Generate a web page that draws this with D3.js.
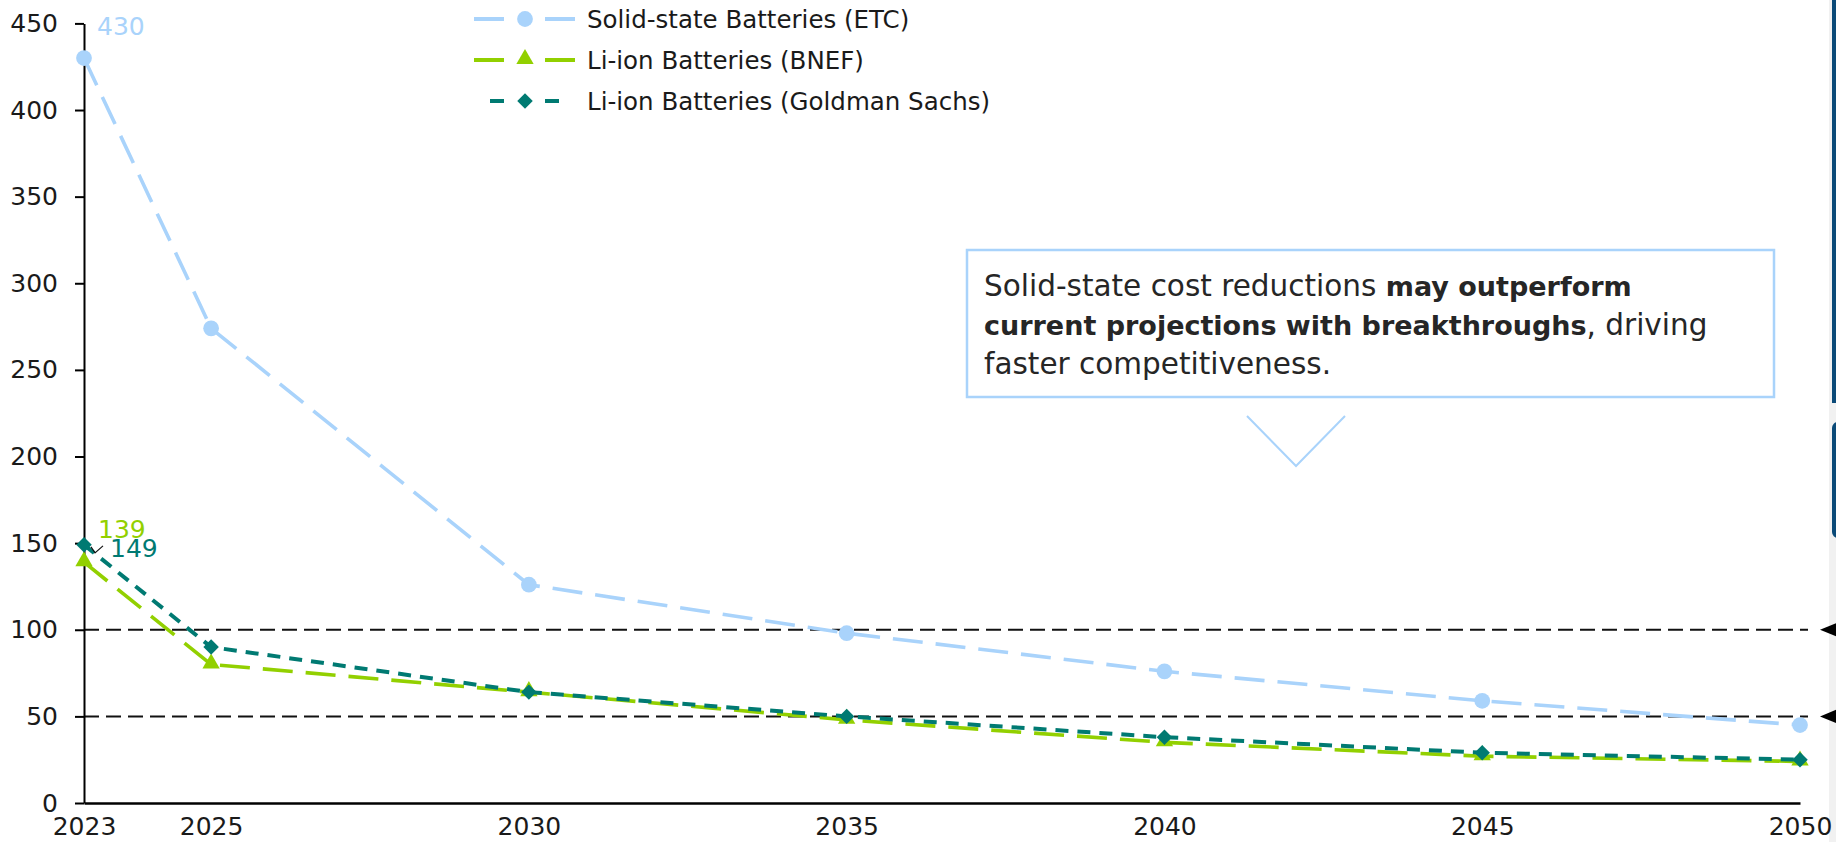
<!DOCTYPE html>
<html>
<head>
<meta charset="utf-8">
<script src="https://cdn.jsdelivr.net/npm/d3@7"></script>
<style>
  html, body { margin: 0; padding: 0; background: #ffffff; }
  svg { display: block; font-family: "DejaVu Sans", sans-serif; }
</style>
</head>
<body>
<svg id="chart" width="1836" height="842"></svg>
<script>
// ---- data ----
const years = [2023, 2025, 2030, 2035, 2040, 2045, 2050];
const solidState = [430, 274, 126, 98, 76, 59, 45];
const liIonBNEF = [139, 80, 64, 48, 35, 27, 24];
const liIonGS = [149, 90, 64, 50, 38, 29, 25];
const yTicks = [0, 50, 100, 150, 200, 250, 300, 350, 400, 450];
const refLines = [100, 50];
const seriesNames = ["Solid-state Batteries (ETC)", "Li-ion Batteries (BNEF)", "Li-ion Batteries (Goldman Sachs)"];

const colBlue = "#a9d3fb", colGreen = "#92d000", colTeal = "#007a72";

const svg = d3.select("#chart");
const x = d3.scaleLinear().domain([2023, 2050]).range([84, 1800]);
const y = d3.scaleLinear().domain([0, 450]).range([803, 23.4]);

// right edge decoration
svg.append("rect").attr("x", 1829).attr("y", 0).attr("width", 7).attr("height", 842).attr("fill", "#f1f1f1");
svg.append("rect").attr("x", 1832).attr("y", 0).attr("width", 6).attr("height", 403).attr("fill", "#0b4a78");
svg.append("rect").attr("x", 1832).attr("y", 422).attr("width", 12).attr("height", 116).attr("rx", 6).attr("fill", "#0b4a78");

// reference dashed lines
svg.selectAll("line.ref").data(refLines).enter().append("line")
  .attr("x1", x(2023)).attr("x2", x(2050) + 8)
  .attr("y1", d => y(d)).attr("y2", d => y(d))
  .attr("stroke", "#111").attr("stroke-width", 2).attr("stroke-dasharray", "15,7");
svg.selectAll("path.refarrow").data(refLines).enter().append("path")
  .attr("d", d => `M1820,${y(d)} L1842,${y(d) - 9} L1842,${y(d) + 9} Z`)
  .attr("fill", "#000");

// axes
const yAxis = d3.axisLeft(y).tickValues(yTicks).tickSize(9).tickSizeOuter(0).tickPadding(17);
const gy = svg.append("g").attr("transform", `translate(${x(2023)},0)`).call(yAxis);
gy.select(".domain").attr("stroke", "#000").attr("stroke-width", 2);
gy.selectAll(".tick line").attr("stroke", "#000").attr("stroke-width", 2);
gy.selectAll(".tick text").attr("font-size", 25).attr("fill", "#1a1a1a").attr("font-family", "DejaVu Sans");

const xAxis = d3.axisBottom(x).tickValues(years).tickFormat(d3.format("d")).tickSize(0).tickSizeOuter(0);
const gx = svg.append("g").attr("transform", `translate(0,${y(0)})`).call(xAxis);
gx.select(".domain").attr("stroke", "#000").attr("stroke-width", 2.5);
gx.selectAll(".tick text").attr("font-size", 25).attr("fill", "#1a1a1a").attr("font-family", "DejaVu Sans")
  .attr("y", 32).attr("dy", null);

// series
const series = [
  { name: seriesNames[0], values: solidState, color: colBlue, dash: "30,13", width: 3.6, marker: "circle" },
  { name: seriesNames[1], values: liIonBNEF, color: colGreen, dash: "30,13", width: 3.6, marker: "triangle" },
  { name: seriesNames[2], values: liIonGS, color: colTeal, dash: "13,9", width: 4, marker: "diamond" }
];
const line = d3.line().x((d, i) => x(years[i])).y(d => y(d));
const symGen = {
  circle: d3.symbol().type(d3.symbolCircle).size(195),
  triangle: d3.symbol().type(d3.symbolTriangle).size(130),
  diamond: d3.symbol().type(d3.symbolSquare).size(120)
};

series.forEach(s => {
  svg.append("path").datum(s.values).attr("d", line)
    .attr("fill", "none").attr("stroke", s.color).attr("stroke-width", s.width)
    .attr("stroke-dasharray", s.dash);
  svg.selectAll(null).data(s.values).enter().append("path")
    .attr("d", symGen[s.marker])
    .attr("transform", (d, i) => `translate(${x(years[i])},${y(d)})` + (s.marker === "diamond" ? " rotate(45)" : "") + (s.marker === "triangle" ? " translate(0,-1)" : ""))
    .attr("fill", s.color);
});

// first-point data labels
svg.append("text").attr("x", x(years[0]) + 13).attr("y", y(solidState[0]) - 23)
  .attr("font-size", 25).attr("fill", colBlue).text(solidState[0]);
svg.append("text").attr("x", x(years[0]) + 14).attr("y", y(liIonBNEF[0]) - 24)
  .attr("font-size", 25).attr("fill", colGreen).text(liIonBNEF[0]);
svg.append("text").attr("x", x(years[0]) + 26).attr("y", y(liIonGS[0]) + 12)
  .attr("font-size", 25).attr("fill", colTeal).text(liIonGS[0]);
svg.append("path").attr("d", `M${x(2023) + 7},${y(liIonGS[0]) + 2} L${x(2023) + 11},${y(liIonGS[0]) + 8} L${x(2023) + 19},${y(liIonGS[0]) + 1}`)
  .attr("fill", "none").attr("stroke", "#111").attr("stroke-width", 1.2);

// legend
const legRows = [19, 60, 101];
series.forEach((s, i) => {
  const g = svg.append("g").attr("transform", `translate(0,${legRows[i]})`);
  if (s.marker === "diamond") {
    g.append("line").attr("x1", 490).attr("x2", 504).attr("y1", 0).attr("y2", 0).attr("stroke", s.color).attr("stroke-width", 4);
    g.append("line").attr("x1", 545).attr("x2", 559).attr("y1", 0).attr("y2", 0).attr("stroke", s.color).attr("stroke-width", 4);
  } else {
    g.append("line").attr("x1", 474).attr("x2", 504).attr("y1", 0).attr("y2", 0).attr("stroke", s.color).attr("stroke-width", 4);
    g.append("line").attr("x1", 545).attr("x2", 575).attr("y1", 0).attr("y2", 0).attr("stroke", s.color).attr("stroke-width", 4);
  }
  g.append("path").attr("d", symGen[s.marker])
    .attr("transform", "translate(525,0)" + (s.marker === "diamond" ? " rotate(45)" : "") + (s.marker === "triangle" ? " translate(0,-1)" : ""))
    .attr("fill", s.color);
  g.append("text").attr("x", 587).attr("y", 0).attr("dy", "0.36em")
    .attr("font-size", 24.5).attr("fill", "#1a1a1a").text(s.name);
});

// annotation box
svg.append("rect").attr("x", 967).attr("y", 250).attr("width", 807).attr("height", 147)
  .attr("fill", "#fff").attr("stroke", colBlue).attr("stroke-width", 2.5);
const ann = svg.append("text").attr("font-size", 29.5).attr("fill", "#262626");
const l1 = ann.append("tspan").attr("x", 984).attr("y", 296);
l1.append("tspan").text("Solid-state cost reductions ");
l1.append("tspan").attr("font-weight", "bold").attr("font-size", 27).text("may outperform");
const l2 = ann.append("tspan").attr("x", 984).attr("y", 335);
l2.append("tspan").attr("font-weight", "bold").attr("font-size", 27).text("current projections with breakthroughs");
l2.append("tspan").text(", driving");
ann.append("tspan").attr("x", 984).attr("y", 374).text("faster competitiveness.");
svg.append("path").attr("d", "M1247,416 L1296,466 L1345,416")
  .attr("fill", "none").attr("stroke", colBlue).attr("stroke-width", 2);
</script>
</body>
</html>
